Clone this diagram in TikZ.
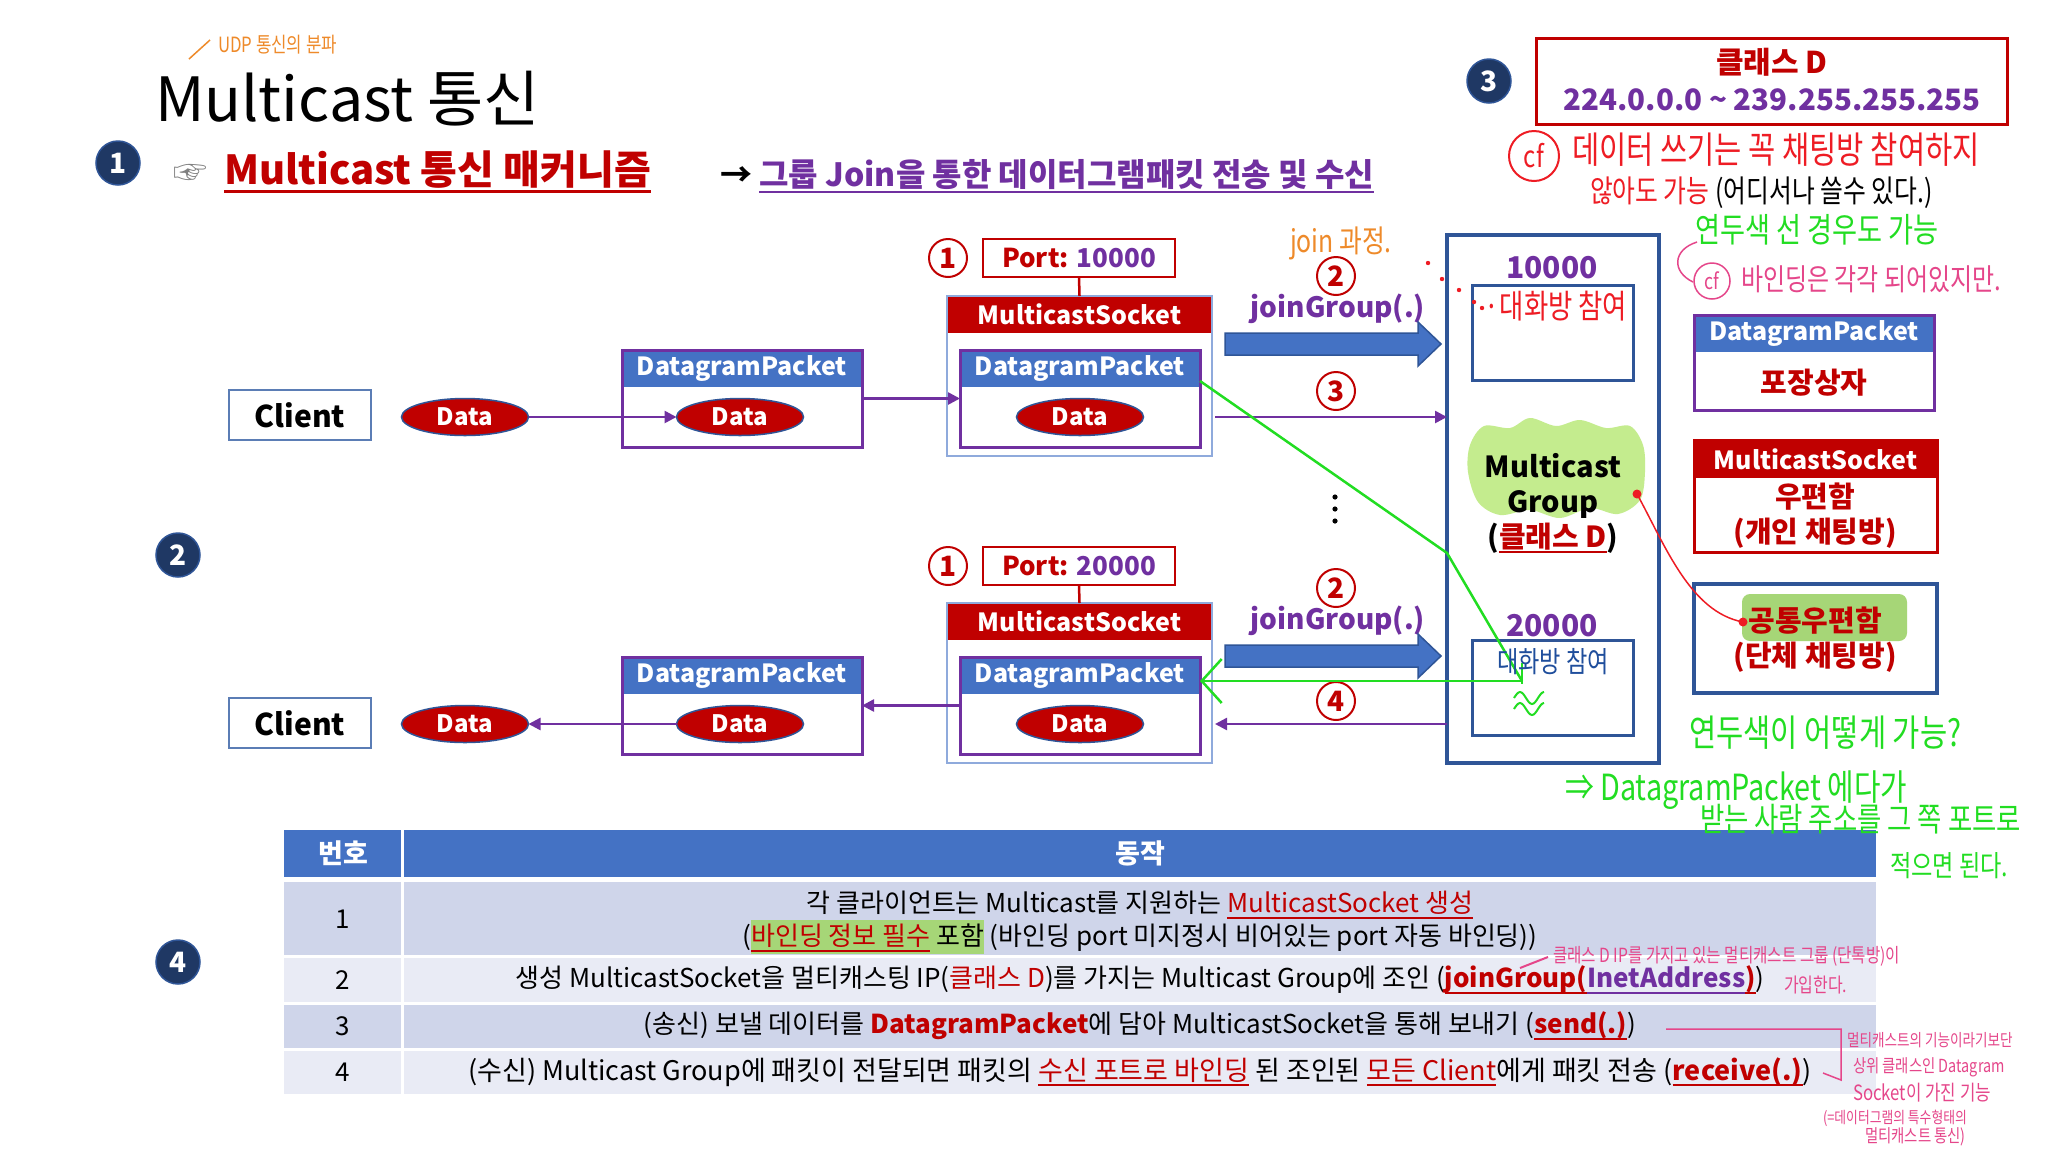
\documentclass[tikz,border=0pt]{standalone}
\usepackage{fontspec}
\setmainfont{Noto Sans CJK KR}
\newfontfamily\hw[FakeStretch=0.8]{Noto Sans CJK KR}
\usetikzlibrary{shapes.geometric,arrows.meta}
\newcommand{\fsz}[1]{\fontsize{#1}{#1}\selectfont}
\newcommand{\ulx}[1]{\setbox0\hbox{#1}\rlap{\rule[-0.22em]{\wd0}{0.07em}}\box0\relax}
\newcommand{\hlx}[1]{\setbox0\hbox{#1}\rlap{\textcolor{chl}{\rule[-0.32em]{\wd0}{1.32em}}}\box0\relax}
\definecolor{cred}{HTML}{C00000}
\definecolor{cblue}{HTML}{4472C4}
\definecolor{cdblue}{HTML}{2F5597}
\definecolor{cpurp}{HTML}{7030A0}
\definecolor{cnavy}{HTML}{1F3864}
\definecolor{csockb}{HTML}{8FAADC}
\definecolor{cclb}{HTML}{5B7DB5}
\definecolor{cgreen}{HTML}{22DD22}
\definecolor{cblob}{HTML}{C4EC8E}
\definecolor{chl}{HTML}{A6D677}
\definecolor{cpink}{HTML}{E5468A}
\definecolor{corange}{HTML}{EE8A2A}
\definecolor{crow1}{HTML}{CFD5EA}
\definecolor{crow2}{HTML}{E9EBF5}
\definecolor{chwred}{HTML}{EE1C24}
\definecolor{chwblue}{HTML}{1F4E9C}
\begin{document}
\begin{tikzpicture}[x=1pt,y=-1pt,
  every node/.style={inner sep=0pt, outer sep=0pt},
  navyc/.style={circle, fill=cnavy, draw=cdblue, line width=1.5, minimum size=44, text=white, font=\bfseries\fsz{28}},
  redc/.style={circle, draw=cred, line width=2, minimum size=38, text=cred, font=\bfseries\fsz{28}},
  clientbox/.style={draw=cclb, line width=2, fill=white, minimum width=142, minimum height=50, font=\bfseries\fsz{30}},
  dataell/.style={ellipse, fill=cred, draw=cdblue, line width=1.5, minimum width=127, minimum height=37, text=white, font=\bfseries\fsz{24}},
  dpbox/.style={draw=cpurp, line width=3, minimum width=240, minimum height=97},
  dphead/.style={fill=cblue, minimum width=240, minimum height=37, text=white, font=\bfseries\fsz{25}},
  sockbox/.style={draw=csockb, line width=2, minimum width=265, minimum height=160},
  sockhead/.style={fill=cred, minimum width=265, minimum height=37, text=white, font=\bfseries\fsz{25}},
  portbox/.style={draw=cred, line width=2.5, fill=white, minimum width=192, minimum height=38, font=\bfseries\fsz{26}, text=cred},
  parrow/.style={draw=cpurp, line width=2.5, -{Triangle[length=12pt,width=12pt]}},
  bigarr/.style={fill=cblue, draw=cdblue, line width=1.5},
  greenln/.style={draw=cgreen, line width=2.5},
  grpbox/.style={draw=cdblue, line width=4},
  innerbox/.style={draw=cdblue, line width=3, minimum width=161, minimum height=95},
  purpnum/.style={text=cpurp, font=\bfseries\fsz{30}},
  jg/.style={anchor=base, text=cpurp, font=\bfseries\fsz{28}},
  celltxt/.style={font=\fsz{26}},
  hwt/.style={anchor=west, font=\hw\fsz{#1}},
]
\useasboundingbox[fill=white] (0,0) rectangle (2048,1152);

% ---------- header ----------
\coordinate (udp0) at (189,59);
\coordinate (udp1) at (210,40);
\draw[corange, line width=1.5] (udp0) -- (udp1);
\node[hwt=21, text=corange] (udp) at (218,45) {UDP 통신의 분파};
\node[anchor=base west, font=\fsz{61}] (title) at (155,121) {Multicast 통신};
\node[navyc] (c1) at (118,163) {1};
\node[text=gray, font=\fsz{34}] (hand) at (190,174) {☞};
\node[anchor=west, text=cred, font=\bfseries\fsz{40}] (mech) at (224,172) {\ulx{Multicast 통신 매커니즘}};
\node[anchor=west, font=\bfseries\fsz{32}] (sub) at (720,176) {→ \textcolor{cpurp}{\ulx{그룹 Join을 통한 데이터그램패킷 전송 및 수신}}};

% ---------- class D ----------
\node[navyc] (c3) at (1489,81) {3};
\node[draw=cred, line width=2.5, minimum width=471, minimum height=86] (cd) at (1772,81.5) {};
\node[text=cred, font=\bfseries\fsz{30}] (cdt1) at (1772,62) {클래스 D};
\node[text=cpurp, font=\bfseries\fsz{29.5}] (cdt2) at (1772,100) {224.0.0.0 \textasciitilde{} 239.255.255.255};

% handwritten notes (top right)
\node[circle, draw=chwred, line width=2, minimum size=50, text=chwred, font=\hw\fsz{30}] (cf1) at (1534,156) {cf};
\node[hwt=37, text=chwred] (hw1) at (1572,150) {데이터 쓰기는 꼭 채팅방 참여하지};
\node[hwt=31, text=chwred] (hw2) at (1590,193) {않아도 가능 \textcolor{black}{(어디서나 쓸수 있다.)}};
\node[hwt=34, text=cgreen] (hw3) at (1695,230) {연두색 선 경우도 가능};
\coordinate (pb0) at (1697,242);
\coordinate (pb1) at (1693,282);
\draw[cpink, line width=1.5] (pb0) .. controls (1672,250) and (1672,272) .. (pb1);
\node[circle, draw=cpink, line width=1.5, minimum size=36, text=cpink, font=\hw\fsz{22}] (cf2) at (1712,281) {cf};
\node[hwt=30, text=cpink] (hw4) at (1741,279) {바인딩은 각각 되어있지만.};

% ---------- top row ----------
\node[clientbox] (cl1) at (300,415) {Client};
\node[dataell] (da1) at (465,417) {Data};
\node[dphead] (dp1h) at (742,368.5) {DatagramPacket};
\node[dpbox] (dp1) at (742,398.5) {};
\node[dataell] (db1) at (740,417) {Data};

\node[sockhead] (s1h) at (1079.5,314.5) {MulticastSocket};
\node[sockbox] (s1) at (1079.5,376) {};
\node[dphead] (s1dh) at (1080,368.5) {DatagramPacket};
\node[dpbox] (s1d) at (1080,398.5) {};
\node[dataell] (dc1) at (1080,417) {Data};
\node[portbox] (p1) at (1079,258) {Port: \textcolor{cpurp}{10000}};
\draw[cred, line width=2.5] (p1.south) -- (s1.north);
\node[redc] (r11) at (948,258) {1};

\draw[parrow] (da1.east) -- (db1.west);
\draw[parrow] (dp1.east) -- (s1d.west);

% group box
\node[grpbox, minimum width=212, minimum height=528] (grp) at (1553,499) {};
\node[innerbox] (g1) at (1552.5,332.5) {};
\node[purpnum] (g1t) at (1552,268) {10000};
\node[innerbox] (g2) at (1552.5,687.5) {};
\node[purpnum] (g2t) at (1552,626) {20000};

\node[redc] (r12) at (1336,276) {2};
\node[jg] (jg1) at (1338,317) {joinGroup(.)};
\coordinate (ba1) at (1225,344);
\filldraw[bigarr] (ba1) ++(0,-11) -- ++(193,0) -- ++(0,-11) -- ++(23,22) -- ++(-23,22) -- ++(0,-11) -- ++(-193,0) -- cycle;
\node[redc] (r13) at (1336,391) {3};
\draw[parrow] ([xshift=3pt]s1.east |- dc1) -- (grp.west |- dc1);

% orange + red dots
\node[hwt=31, text=corange] (jp) at (1290,243) {join 과정.};
\foreach \px/\py in {1428/263,1442/279,1459/290,1474/302,1482/308}
  \fill[chwred] (\px,\py) circle (2.2);
\node[text=chwred, font=\hw\fsz{33}] (tk1) at (1556,306) {·대화방 참여};

% blob
\fill[cblob] plot[smooth cycle, tension=0.55] coordinates {(1470,445) (1484,426) (1510,428) (1530,418) (1556,426) (1580,420) (1606,428) (1630,426) (1643,445) (1645,472) (1640,500) (1618,514) (1590,508) (1560,518) (1530,510) (1500,515) (1478,502) (1468,472)};
\node[anchor=base, font=\bfseries\fsz{29}] (mg1) at (1553,477) {Multicast};
\node[anchor=base, font=\bfseries\fsz{29}] (mg2) at (1553,512) {Group};
\node[anchor=base, font=\bfseries\fsz{29}] (mg3) at (1553,547) {(\textcolor{cred}{\ulx{클래스 D}})};

\foreach \py in {497,509,521} \fill (1335,\py) circle (2.6);

% ---------- bottom row ----------
\node[navyc] (c2) at (178,555) {2};
\node[clientbox] (cl2) at (300,723) {Client};
\node[dataell] (da2) at (465,724) {Data};
\node[dphead] (dp2h) at (742,675.5) {DatagramPacket};
\node[dpbox] (dp2) at (742,705.5) {};
\node[dataell] (db2) at (740,724) {Data};

\node[sockhead] (s2h) at (1079.5,621.5) {MulticastSocket};
\node[sockbox] (s2) at (1079.5,683) {};
\node[dphead] (s2dh) at (1080,675.5) {DatagramPacket};
\node[dpbox] (s2d) at (1080,705.5) {};
\node[dataell] (dc2) at (1080,724) {Data};
\node[portbox] (p2) at (1079,566) {Port: \textcolor{cpurp}{20000}};
\draw[cred, line width=2.5] (p2.south) -- (s2.north);
\node[redc] (r21) at (948,566) {1};

\draw[parrow] (db2.west) -- (da2.east);
\draw[parrow] (s2d.west) -- (dp2.east);

\node[redc] (r22) at (1336,588) {2};
\node[jg] (jg2) at (1338,629) {joinGroup(.)};
\coordinate (ba2) at (1225,656);
\filldraw[bigarr] (ba2) ++(0,-11) -- ++(193,0) -- ++(0,-11) -- ++(23,22) -- ++(-23,22) -- ++(0,-11) -- ++(-193,0) -- cycle;
\node[redc] (r24) at (1336,701) {4};
\draw[parrow] (grp.west |- dc2) -- ([xshift=3pt]s2.east |- dc2);

% green connector
\coordinate (gB) at (1447,553);
\coordinate (gA) at (1522,681);
\draw[greenln] ([yshift=6pt]s1dh.south east) -- (gB) -- (gA);
\draw[greenln] ([yshift=18pt]gA) -- ([yshift=-3pt]gA);
\draw[greenln, -{Straight Barb[length=20pt,width=44pt]}] (gA) -- (s2dh.east |- gA);

\node[text=chwblue, font=\hw\fsz{29}] (tk2) at (1553,662) {대화방 참여};
\draw[cgreen, line width=2] (1514,698) sin (1520,692) cos (1526,698) sin (1532,704) cos (1538,698) sin (1544,692);
\draw[cgreen, line width=2] (1514,709) sin (1520,703) cos (1526,709) sin (1532,715) cos (1538,709) sin (1544,703);

% ---------- legend ----------
\node[dphead] (lg1h) at (1814,333) {DatagramPacket};
\node[dpbox, minimum height=95] (lg1) at (1814,362.5) {};
\node[text=cred, font=\bfseries\fsz{29}] (lg1t) at (1814,383) {포장상자};

\node[sockhead, minimum width=243, minimum height=38] (lg2h) at (1815.5,459) {MulticastSocket};
\node[draw=cred, line width=3, minimum width=243, minimum height=112] (lg2) at (1815.5,496) {};
\node[text=cred, font=\bfseries\fsz{29}] (lg2t1) at (1815,497) {우편함};
\node[text=cred, font=\bfseries\fsz{29}] (lg2t2) at (1815,533) {(개인 채팅방)};

\node[grpbox, minimum width=243, minimum height=109] (lg3) at (1815.5,638.5) {};
\fill[chl, rounded corners=8] (1742,594) rectangle (1907,641);
\node[text=cred, font=\bfseries\fsz{29}] (lg3t1) at (1815,621) {공통우편함};
\node[text=cred, font=\bfseries\fsz{29}] (lg3t2) at (1815,657) {(단체 채팅방)};

\coordinate (rd1) at (1637,494);
\coordinate (rd2) at (1743,622);
\draw[chwred, line width=1.5] (rd1) .. controls (1665,545) and (1690,612) .. (rd2);
\fill[chwred] (rd1) circle (4.5);
\fill[chwred] (rd2) circle (4.5);

% ---------- table ----------
\node[navyc] (c4) at (178,962) {4};
\fill[cblue] (284,830) rectangle (401,877);
\fill[cblue] (404,830) rectangle (1876,877);
\fill[crow1] (284,882) rectangle (401,955);
\fill[crow1] (404,882) rectangle (1876,955);
\fill[crow2] (284,958) rectangle (401,1002);
\fill[crow2] (404,958) rectangle (1876,1002);
\fill[crow1] (284,1005) rectangle (401,1048);
\fill[crow1] (404,1005) rectangle (1876,1048);
\fill[crow2] (284,1051) rectangle (401,1094);
\fill[crow2] (404,1051) rectangle (1876,1094);

\node[text=white, font=\bfseries\fsz{27}] (th1) at (343,853) {번호};
\node[text=white, font=\bfseries\fsz{27}] (th2) at (1140,853) {동작};
\node[celltxt] (n1) at (343,919) {1};
\node[celltxt] (n2) at (343,980) {2};
\node[celltxt] (n3) at (343,1026) {3};
\node[celltxt] (n4) at (343,1072) {4};

\node[celltxt] (t1a) at (1140,905) {각 클라이언트는 Multicast를 지원하는 \textcolor{cred}{\ulx{MulticastSocket 생성}}};
\node[celltxt] (t1b) at (1140,937) {(\hlx{\textcolor{cred}{\ulx{바인딩 정보 필수}} 포함} (바인딩 port 미지정시 비어있는 port 자동 바인딩))};
\node[celltxt] (t2) at (1140,980) {생성 MulticastSocket을 멀티캐스팅 IP(\textcolor{cred}{클래스 D})를 가지는 Multicast Group에 조인 (\textcolor{cred}{\bfseries\ulx{joinGroup(}\textcolor{cpurp}{\ulx{InetAddress}}\ulx{)}})};
\node[celltxt] (t3) at (1140,1026) {(송신) 보낼 데이터를 \textcolor{cred}{\bfseries DatagramPacket}에 담아 MulticastSocket을 통해 보내기 (\textcolor{cred}{\bfseries\ulx{send(.)}})};
\node[font=\fsz{27}] (t4) at (1140,1072) {(수신) Multicast Group에 패킷이 전달되면 패킷의 \textcolor{cred}{\ulx{수신 포트로 바인딩}} 된 조인된 \textcolor{cred}{\ulx{모든 Client}}에게 패킷 전송 (\textcolor{cred}{\bfseries\ulx{receive(.)}})};

% green notes (drawn over the table edge)
\node[hwt=37, text=cgreen] (hw5) at (1689,733) {연두색이 어떻게 가능?};
\node[hwt=36, text=cgreen] (hw6) at (1565,790) {⇒ DatagramPacket 에다가};
\node[hwt=33, text=cgreen] (hw7) at (1700,819) {받는 사람 주소를 그 쪽 포트로};
\node[hwt=29, text=cgreen] (hw8) at (1890,866) {적으면 된다.};

% pink notes near table
\coordinate (pk0) at (1520,968);
\coordinate (pk1) at (1548,957);
\draw[cpink, line width=2] (pk0) -- (pk1);
\node[hwt=19.5, text=cpink] (hw9) at (1553,956) {클래스 D IP를 가지고 있는 멀티캐스트 그룹 (단톡방)이};
\node[hwt=20, text=cpink] (hw10) at (1784,985) {가입한다.};
\coordinate (bk0) at (1666,1029);
\coordinate (bk1) at (1823,1073);
\draw[cpink, line width=1.5] (bk0) -- (1841,1029) -- (1841,1080) -- (bk1);
\node[hwt=17, text=cpink] (hw11) at (1847,1040) {멀티캐스트의 기능이라기보단};
\node[hwt=18, text=cpink] (hw12) at (1853,1067) {상위 클래스인 Datagram};
\node[hwt=21, text=cpink] (hw13) at (1853,1093) {Socket이 가진 기능};
\node[hwt=16, text=cpink] (hw14) at (1823,1118) {(=데이터그램의 특수형태의};
\node[hwt=18, text=cpink] (hw15) at (1865,1137) {멀티캐스트 통신)};
\end{tikzpicture}
\end{document}
